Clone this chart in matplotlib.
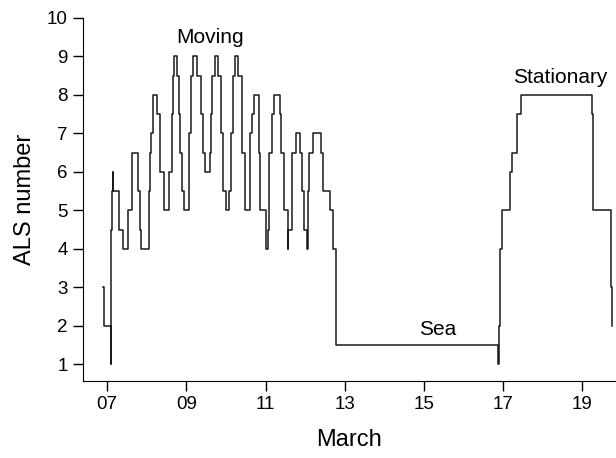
import matplotlib
matplotlib.use("Agg")
import matplotlib.pyplot as plt

# step series: day of March (start of each step) and ALS number
days = [6.90, 6.91, 7.09, 7.095, 7.10, 7.12, 7.15, 7.155, 7.30, 7.39,
        7.54, 7.62, 7.78, 7.82, 7.86, 8.05, 8.07, 8.09, 8.12, 8.17,
        8.26, 8.33, 8.43, 8.57, 8.63, 8.66, 8.70, 8.76, 8.81, 8.85,
        8.89, 8.93, 9.06, 9.08, 9.13, 9.18, 9.28, 9.36, 9.42, 9.48,
        9.59, 9.63, 9.66, 9.72, 9.79, 9.87, 9.93, 9.99, 10.09, 10.13,
        10.17, 10.22, 10.31, 10.41, 10.49, 10.60, 10.66, 10.70, 10.83, 10.87,
        11.02, 11.06, 11.08, 11.10, 11.16, 11.21, 11.36, 11.40, 11.46, 11.57,
        11.575, 11.66, 11.70, 11.78, 11.86, 11.91, 11.97, 12.06, 12.065, 12.08,
        12.10, 12.14, 12.20, 12.39, 12.45, 12.63, 12.70, 12.79, 16.88, 16.885,
        16.91, 16.97, 17.18, 17.22, 17.35, 17.44, 19.25, 19.27, 19.72, 19.74,
        19.75]
als = [3, 2, 1, 3, 4.5, 5.5, 6, 5.5, 4.5, 4,
       5, 6.5, 5.5, 4.5, 4, 4.5, 5.5, 6.5, 7, 8,
       7.5, 6, 5, 6, 7.5, 8.5, 9, 8.5, 7.5, 6.5,
       5.5, 5, 5.5, 7, 8.5, 9, 8.5, 7.5, 6.5, 6,
       6.5, 7.5, 8.5, 9, 8.5, 7, 5.5, 5, 5.5, 7,
       8.5, 9, 8.5, 6.5, 5, 7, 7.5, 8, 6.5, 5,
       4, 4.5, 5.5, 6.5, 7.5, 8, 7.5, 6.5, 5, 4,
       4.5, 6.5, 6.5, 7, 6.5, 5.5, 4.5, 4, 4.5, 5.5,
       6.5, 6.5, 7, 6.5, 5.5, 5, 4, 1.5, 1, 2,
       4, 5, 6, 6.5, 7.5, 8, 7.5, 5, 3, 2,
       2]

xticks = [7, 9, 11, 13, 15, 17, 19]
xticklabels = ["07", "09", "11", "13", "15", "17", "19"]
yticks = list(range(1, 11))

plt.rcParams['font.family'] = ['Liberation Sans', 'DejaVu Sans']

fig = plt.figure(figsize=(6.16, 4.58), dpi=100)
ax = fig.add_axes([0.134, 0.168, 0.866, 0.793])

ax.plot(days, als, drawstyle='steps-post', color='#1a1a1a', lw=1.1)

ax.set_xlim(6.38, 19.85)
ax.set_ylim(0.57, 10)
ax.set_xticks(xticks)
ax.set_xticklabels(xticklabels)
ax.set_yticks(yticks)
ax.tick_params(direction='out', length=7, width=1, labelsize=13.5, pad=3.5)

for s in ['top', 'right']:
    ax.spines[s].set_visible(False)

ax.set_xlabel('March', fontsize=17, labelpad=12)
ax.set_ylabel('ALS number', fontsize=17, labelpad=8)

ax.text(9.59, 9.5, 'Moving', ha='center', va='center', fontsize=15)
ax.text(15.35, 1.9, 'Sea', ha='center', va='center', fontsize=15)
ax.text(18.43, 8.44, 'Stationary', ha='center', va='center', fontsize=15)

fig.savefig('out.png', dpi=100)
